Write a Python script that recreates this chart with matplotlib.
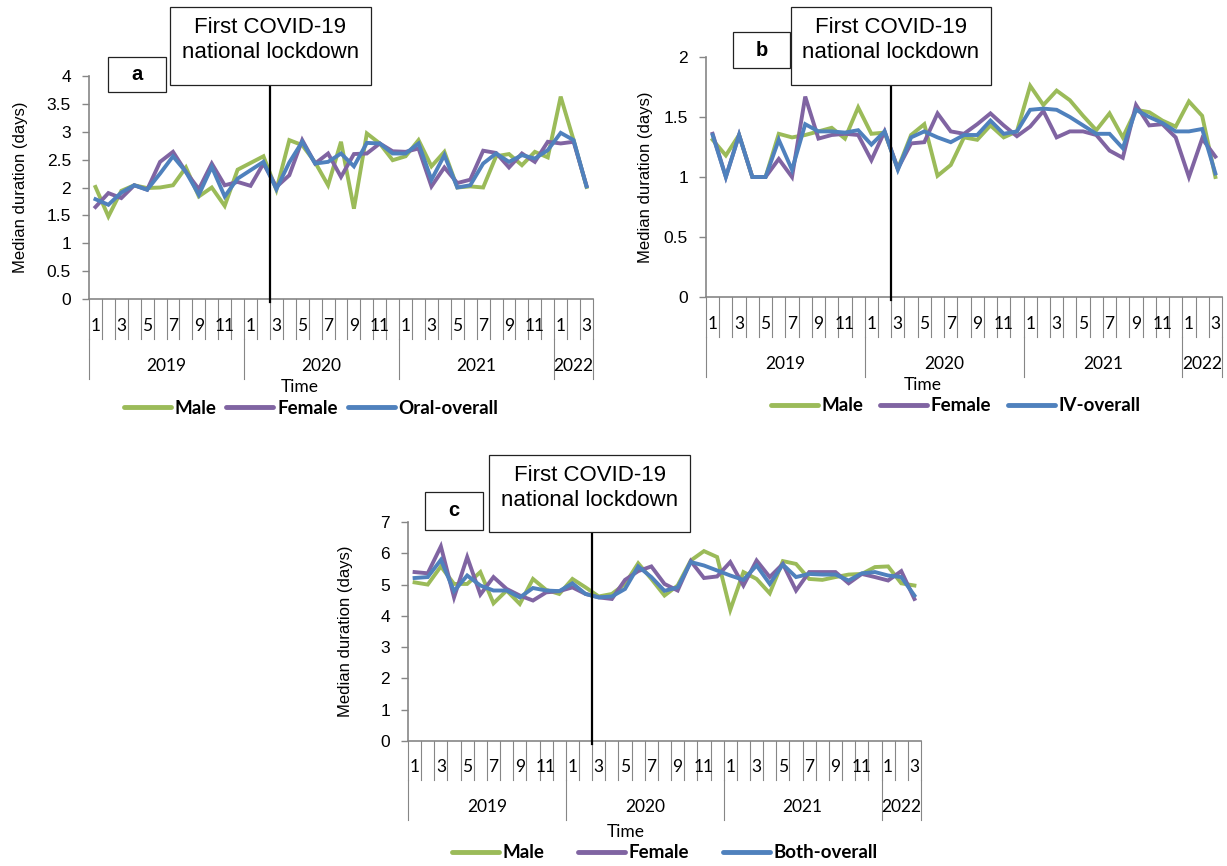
import matplotlib
matplotlib.use("Agg")
import matplotlib.pyplot as plt
from matplotlib.patches import Rectangle
from matplotlib.lines import Line2D
import matplotlib.transforms as mtransforms

# ---- data (monthly medians, Jan 2019 .. Mar 2022) ----
months = [1, 2, 3, 4, 5, 6, 7, 8, 9, 10, 11, 12] * 3 + [1, 2, 3]
years = ["2019", "2020", "2021", "2022"]
year_sizes = [12, 12, 12, 3]

a_male = [2.01, 1.48, 1.94, 2.04, 1.99, 2.00, 2.04, 2.36, 1.84, 2.00, 1.67, 2.32,
          2.44, 2.56, 1.96, 2.85, 2.76, 2.45, 2.04, 2.82, 1.62, 2.97, 2.79, 2.49,
          2.56, 2.85, 2.38, 2.64, 2.00, 2.02, 2.00, 2.56, 2.60, 2.40, 2.64, 2.54,
          3.63, 2.85, 2.01]
a_female = [1.65, 1.90, 1.81, 2.04, 1.96, 2.46, 2.64, 2.28, 1.97, 2.43, 2.04, 2.10,
            2.03, 2.43, 2.01, 2.22, 2.85, 2.43, 2.61, 2.19, 2.60, 2.61, 2.79, 2.65,
            2.64, 2.70, 2.02, 2.36, 2.08, 2.14, 2.66, 2.62, 2.36, 2.61, 2.46, 2.82,
            2.79, 2.82, 2.03]
a_overall = [1.79, 1.69, 1.91, 2.04, 1.96, 2.25, 2.56, 2.28, 1.87, 2.37, 1.84, 2.16,
             2.31, 2.46, 1.97, 2.45, 2.82, 2.43, 2.46, 2.61, 2.38, 2.80, 2.79, 2.61,
             2.61, 2.79, 2.14, 2.58, 2.00, 2.04, 2.43, 2.61, 2.46, 2.58, 2.52, 2.67,
             2.98, 2.85, 2.02]

b_male = [1.31, 1.18, 1.35, 1.00, 1.00, 1.36, 1.33, 1.35, 1.38, 1.41, 1.32, 1.58,
          1.36, 1.37, 1.07, 1.35, 1.44, 1.01, 1.10, 1.33, 1.31, 1.43, 1.33, 1.38,
          1.76, 1.60, 1.72, 1.64, 1.51, 1.39, 1.53, 1.33, 1.56, 1.54, 1.47, 1.42,
          1.63, 1.51, 1.00]
b_female = [1.36, 1.00, 1.35, 1.00, 1.00, 1.15, 1.00, 1.67, 1.32, 1.35, 1.36, 1.35,
            1.14, 1.38, 1.07, 1.28, 1.29, 1.53, 1.38, 1.36, 1.44, 1.53, 1.43, 1.34,
            1.42, 1.55, 1.33, 1.38, 1.38, 1.35, 1.22, 1.16, 1.60, 1.43, 1.44, 1.33,
            1.00, 1.32, 1.17]
b_overall = [1.35, 1.00, 1.35, 1.00, 1.00, 1.31, 1.06, 1.44, 1.38, 1.38, 1.37, 1.39,
             1.27, 1.38, 1.06, 1.33, 1.38, 1.33, 1.29, 1.35, 1.35, 1.47, 1.36, 1.38,
             1.56, 1.57, 1.56, 1.50, 1.43, 1.36, 1.36, 1.24, 1.56, 1.50, 1.45, 1.38,
             1.38, 1.40, 1.03]

c_male = [5.07, 5.00, 5.58, 5.02, 5.02, 5.40, 4.40, 4.81, 4.38, 5.18, 4.83, 4.70,
          5.18, 4.91, 4.62, 4.70, 5.02, 5.68, 5.18, 4.65, 4.97, 5.77, 6.07, 5.88,
          4.19, 5.40, 5.18, 4.72, 5.75, 5.66, 5.18, 5.15, 5.24, 5.32, 5.34, 5.56,
          5.58, 5.04, 4.97]
c_female = [5.40, 5.36, 6.22, 4.59, 5.88, 4.68, 5.24, 4.86, 4.65, 4.49, 4.75, 4.79,
            4.91, 4.70, 4.59, 4.54, 5.15, 5.43, 5.58, 5.02, 4.81, 5.75, 5.21, 5.26,
            5.72, 4.97, 5.77, 5.24, 5.66, 4.81, 5.40, 5.40, 5.40, 5.04, 5.34, 5.24,
            5.13, 5.43, 4.54]
c_overall = [5.21, 5.24, 5.79, 4.79, 5.29, 4.97, 4.81, 4.81, 4.59, 4.89, 4.81, 4.79,
             5.04, 4.70, 4.59, 4.62, 4.86, 5.58, 5.24, 4.80, 4.91, 5.72, 5.61, 5.45,
             5.29, 5.15, 5.61, 5.02, 5.64, 5.24, 5.34, 5.32, 5.32, 5.13, 5.36, 5.40,
             5.29, 5.24, 4.65]

lockdown_pos = 13.5  # between Feb and Mar 2020

GREEN = "#9BBB59"
PURPLE = "#8064A2"
BLUE = "#4F81BD"
GRAY = "#868686"

W, H = 1227, 866
fig = plt.figure(figsize=(W / 100, H / 100), dpi=100)
fig.patch.set_facecolor("white")

TXT = ["Lato", "DejaVu Sans"]
ARIAL = ["Liberation Sans", "DejaVu Sans"]


def fx(px):
    return px / W


def fy(py):
    return 1 - py / H


def fig_box(x0, y0, x1, y1):
    fig.patches.append(Rectangle((fx(x0), fy(y1)), fx(x1) - fx(x0), fy(y0) - fy(y1),
                                 transform=fig.transFigure, fill=True, facecolor="white",
                                 edgecolor="#222222", linewidth=0.9, zorder=5))


def panel(box, series, overall_label, ymax, ystep, ylabels, letter_box, lock_box,
          geo, legend_x, time_x, ylabel_x, colsp):
    x0, x1, ytop, ybot = box
    ax = fig.add_axes([fx(x0), fy(ybot), fx(x1) - fx(x0), fy(ytop) - fy(ybot)])
    h = ybot - ytop
    w = x1 - x0
    n = len(months)
    xs = list(range(n))
    for vals, col, lab in zip(series, [GREEN, PURPLE, BLUE], ["Male", "Female", overall_label]):
        ax.plot(xs, vals, color=col, lw=2.8, label=lab, solid_joinstyle="miter")
    ax.set_xlim(-0.5, n - 0.5)
    ax.set_ylim(0, ymax)
    ticks = [i * ystep for i in range(len(ylabels))]
    ax.set_yticks(ticks)
    ax.set_yticklabels(ylabels, fontfamily=ARIAL, fontsize=12.5)
    ax.tick_params(axis="y", color=GRAY, length=5, width=1, pad=8)
    ax.set_xticks([])
    for s in ["top", "right"]:
        ax.spines[s].set_visible(False)
    for s in ["left", "bottom"]:
        ax.spines[s].set_color(GRAY)
        ax.spines[s].set_linewidth(1.2)

    trans = mtransforms.blended_transform_factory(ax.transData, ax.transAxes)
    m_lab, m_end, y_lab, y_end, t_lab, leg_off = geo
    # month dividers and labels
    for k in range(n + 1):
        ax.add_line(Line2D([k - 0.5, k - 0.5], [0, -m_end / h], transform=trans,
                           color=GRAY, lw=0.8, clip_on=False))
    for k, m in enumerate(months):
        if m % 2 == 1:
            ax.text(k, -m_lab / h, str(m), transform=trans, ha="center", va="center",
                    fontfamily=TXT, fontsize=12.5)
    # year dividers and labels
    start = 0
    edges = [0]
    for yr, sz in zip(years, year_sizes):
        ax.text(start + sz / 2 - 0.5, -y_lab / h, yr, transform=trans, ha="center",
                va="center", fontfamily=TXT, fontsize=12.5)
        start += sz
        edges.append(start)
    for e in edges:
        ax.add_line(Line2D([e - 0.5, e - 0.5], [-m_end / h, -y_end / h], transform=trans,
                           color=GRAY, lw=0.8, clip_on=False))
    ax.text((time_x - x0) / w, -t_lab / h, "Time", transform=ax.transAxes, ha="center",
            va="center", fontfamily=TXT, fontsize=12.5)

    ax.set_ylabel("Median duration (days)", fontfamily=ARIAL, fontsize=12)
    ax.yaxis.set_label_coords((ylabel_x - x0) / w, 0.5)

    # lockdown marker
    lx0, ly0, lx1, ly1 = lock_box
    ax.add_line(Line2D([lockdown_pos, lockdown_pos], [-3 / h, (ybot - ly1) / h],
                       transform=trans, color="black", lw=1.6, clip_on=False, zorder=6))
    fig_box(lx0, ly0, lx1, ly1)
    fig.text(fx((lx0 + lx1) / 2), fy(ly0 + 33), "First COVID-19\nnational lockdown",
             ha="center", va="center", fontfamily=ARIAL, fontsize=16, linespacing=1.3,
             zorder=7)
    bx0, by0, bx1, by1, letter = letter_box
    fig_box(bx0, by0, bx1, by1)
    fig.text(fx((bx0 + bx1) / 2), fy((by0 + by1) / 2), letter, ha="center", va="center",
             fontfamily=ARIAL, fontsize=14.5, fontweight="bold", zorder=7)

    leg = fig.legend(*ax.get_legend_handles_labels(), loc="center", ncol=3,
                     bbox_to_anchor=(fx(legend_x), fy(ybot + leg_off)), frameon=False,
                     prop={"family": TXT, "size": 13.5, "weight": "bold"},
                     handlelength=2.5, handletextpad=0.2, columnspacing=colsp,
                     borderaxespad=0, borderpad=0)
    for line in leg.get_lines():
        line.set_linewidth(3.5)
        line.set_solid_capstyle("round")
    return ax


geo_ab = (27, 40, 67, 80, 88, 109)
geo_c = (26, 39, 66, 79, 91, 112)

panel((89, 593, 76, 299), [a_male, a_female, a_overall], "Oral-overall", 4, 0.5,
      ["0", "0.5", "1", "1.5", "2", "2.5", "3", "3.5", "4"],
      (108, 57, 166, 92, "a"), (170, 7, 371, 85), geo_ab, 311, 300, 28, 0.55)

panel((706, 1222, 57, 297), [b_male, b_female, b_overall], "IV-overall", 2, 0.5,
      ["0", "0.5", "1", "1.5", "2"],
      (733, 32, 790, 68, "b"), (791, 7, 991, 85), geo_ab, 956, 923, 653, 0.9)

panel((408, 921, 522, 741), [c_male, c_female, c_overall], "Both-overall", 7, 1,
      ["0", "1", "2", "3", "4", "5", "6", "7"],
      (425, 492, 483, 530, "c"), (489, 455, 690, 532), geo_c, 665, 626, 353, 1.8)

fig.savefig("out.png", dpi=100)
